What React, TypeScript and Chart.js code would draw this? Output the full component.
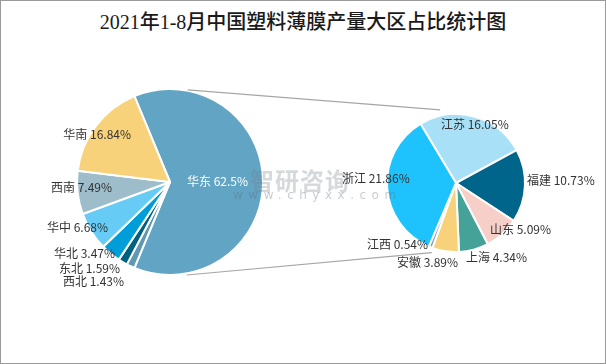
import React, { useEffect, useRef } from "react";
import { Chart, registerables } from "chart.js";

Chart.register(...registerables);

const TITLE = "2021年1-8月中国塑料薄膜产量大区占比统计图";

// Left pie: regions (clockwise from the 华东 slice)
const regionCategories = ["华东", "西北", "东北", "华北", "华中", "西南", "华南"];
const regionValues = [62.5, 1.43, 1.59, 3.47, 6.68, 7.49, 16.84];

// Right pie: provinces of 华东 (clockwise from 江苏)
const provinceCategories = ["江苏", "福建", "山东", "上海", "安徽", "江西", "浙江"];
const provinceValues = [16.05, 10.73, 5.09, 4.34, 3.89, 0.54, 21.86];

// Styles
const regionColors = ["#62A4C4", "#5E98B2", "#00607F", "#009ED8", "#66CCF5", "#9DBDCB", "#F7D27A"];
const provinceColors = ["#A8E0F8", "#00658A", "#F6CFC8", "#45A298", "#F7D27A", "#7FA3BF", "#1EC3FD"];
const regionLabelColors = ["#FFFFFF", "#333333", "#333333", "#333333", "#333333", "#333333", "#333333"];
const provinceLabelColors = ["#333333", "#333333", "#333333", "#333333", "#333333", "#333333", "#333333"];

// Label anchors relative to each pie's centre: [dx, dy, align]
const regionLabelPos: [number, number, CanvasTextAlign][] = [
  [17, -1, "left"],
  [-46, 99, "right"],
  [-50, 86, "right"],
  [-55, 71, "right"],
  [-62, 45, "right"],
  [-58, 5, "right"],
  [-39, -48, "right"],
];
const provinceLabelPos: [number, number, CanvasTextAlign][] = [
  [-15, -59, "left"],
  [71, -3, "left"],
  [34, 46, "left"],
  [10, 74, "left"],
  [-59, 79, "left"],
  [-89, 61, "left"],
  [-114, -5, "left"],
];

const W = 606;
const H = 364;
const LABEL_FONT = "12px 'Noto Sans CJK SC', 'Noto Sans', sans-serif";

const pieLabels = {
  id: "pieLabels",
  afterDatasetsDraw(chart: any, _args: any, opts: any) {
    const meta = chart.getDatasetMeta(0);
    const ctx = chart.ctx;
    ctx.save();
    ctx.font = LABEL_FONT;
    ctx.textBaseline = "middle";
    meta.data.forEach((arc: any, i: number) => {
      const p = opts.positions[i];
      ctx.textAlign = p[2];
      ctx.fillStyle = opts.colors[i];
      const text = `${opts.categories[i]} ${opts.values[i]}%`;
      ctx.fillText(text, arc.x + p[0], arc.y + p[1]);
    });
    ctx.restore();
  },
};

export default function App() {
  const leftRef = useRef<HTMLCanvasElement>(null);
  const rightRef = useRef<HTMLCanvasElement>(null);

  useEffect(() => {
    document.body.style.margin = "0";
    const left = new Chart(leftRef.current!, {
      type: "pie",
      data: {
        labels: regionCategories,
        datasets: [
          {
            data: regionValues,
            backgroundColor: regionColors,
            borderColor: "#FFFFFF",
            borderWidth: 2,
          },
        ],
      },
      options: {
        responsive: false,
        animation: false,
        rotation: -22.5,
        radius: 93,
        layout: { padding: { left: 0, right: W - 340, top: 0, bottom: 0 } },
        events: [],
        plugins: {
          legend: { display: false },
          tooltip: { enabled: false },
          title: { display: false },
          pieLabels: {
            positions: regionLabelPos,
            colors: regionLabelColors,
            categories: regionCategories,
            values: regionValues,
          },
        } as any,
      },
      plugins: [pieLabels],
    });

    const connectors = {
      id: "connectors",
      beforeDatasetsDraw(chart: any) {
        const la = left.getDatasetMeta(0).data[0] as any;
        const ra = chart.getDatasetMeta(0).data[0] as any;
        if (!la || !ra) return;
        const lr = la.outerRadius;
        const rr = ra.outerRadius;
        const ctx = chart.ctx;
        ctx.save();
        ctx.strokeStyle = "#A6A6A6";
        ctx.lineWidth = 1.2;
        ctx.beginPath();
        ctx.moveTo(la.x + lr * 0.19, la.y - lr * 0.99);
        ctx.lineTo(ra.x - rr * 0.23, ra.y - rr * 1.06);
        ctx.moveTo(la.x + lr * 0.18, la.y + lr * 1.0);
        ctx.lineTo(ra.x - rr * 0.35, ra.y + rr * 1.01);
        ctx.stroke();
        ctx.restore();
      },
    };

    const right = new Chart(rightRef.current!, {
      type: "pie",
      data: {
        labels: provinceCategories,
        datasets: [
          {
            data: provinceValues,
            backgroundColor: provinceColors,
            borderColor: "#FFFFFF",
            borderWidth: 2,
          },
        ],
      },
      options: {
        responsive: false,
        animation: false,
        rotation: -31,
        radius: 69,
        layout: { padding: { left: 306, right: 0, top: 2, bottom: 0 } },
        events: [],
        plugins: {
          legend: { display: false },
          tooltip: { enabled: false },
          title: { display: false },
          pieLabels: {
            positions: provinceLabelPos,
            colors: provinceLabelColors,
            categories: provinceCategories,
            values: provinceValues,
          },
        } as any,
      },
      plugins: [connectors, pieLabels],
    });

    return () => {
      right.destroy();
      left.destroy();
    };
  }, []);

  return (
    <div
      style={{
        position: "fixed",
        left: 0,
        top: 0,
        width: W,
        height: H,
        background: "#FFFFFF",
        overflow: "hidden",
      }}
    >
      <div
        style={{
          position: "absolute",
          left: 0,
          top: 8,
          width: W,
          textAlign: "center",
          fontFamily: "'Liberation Serif', 'Noto Sans CJK SC', serif",
          fontWeight: 500,
          fontSize: 20,
          lineHeight: "28px",
          color: "#1A1A1A",
        }}
      >
        {TITLE}
      </div>
      <canvas ref={leftRef} width={W} height={H} style={{ position: "absolute", left: 0, top: 0 }} />
      <canvas ref={rightRef} width={W} height={H} style={{ position: "absolute", left: 0, top: 0 }} />
      <div
        style={{
          position: "absolute",
          left: 250,
          top: 166,
          fontFamily: "'Noto Sans CJK SC', sans-serif",
          fontWeight: "bold",
          fontSize: 24,
          lineHeight: "28px",
          letterSpacing: 1,
          color: "rgba(120,130,140,0.3)",
          pointerEvents: "none",
        }}
      >
        智研咨询
      </div>
      <div
        style={{
          position: "absolute",
          left: 233,
          top: 188,
          fontFamily: "'DejaVu Sans', sans-serif",
          fontSize: 12,
          lineHeight: "14px",
          letterSpacing: 5.5,
          color: "rgba(90,110,130,0.35)",
          pointerEvents: "none",
        }}
      >
        www.chyxx.com
      </div>
      <div
        style={{
          position: "absolute",
          left: 0,
          top: 0,
          width: W,
          height: H,
          boxSizing: "border-box",
          border: "1px solid #9A9A9A",
          pointerEvents: "none",
        }}
      />
    </div>
  );
}
